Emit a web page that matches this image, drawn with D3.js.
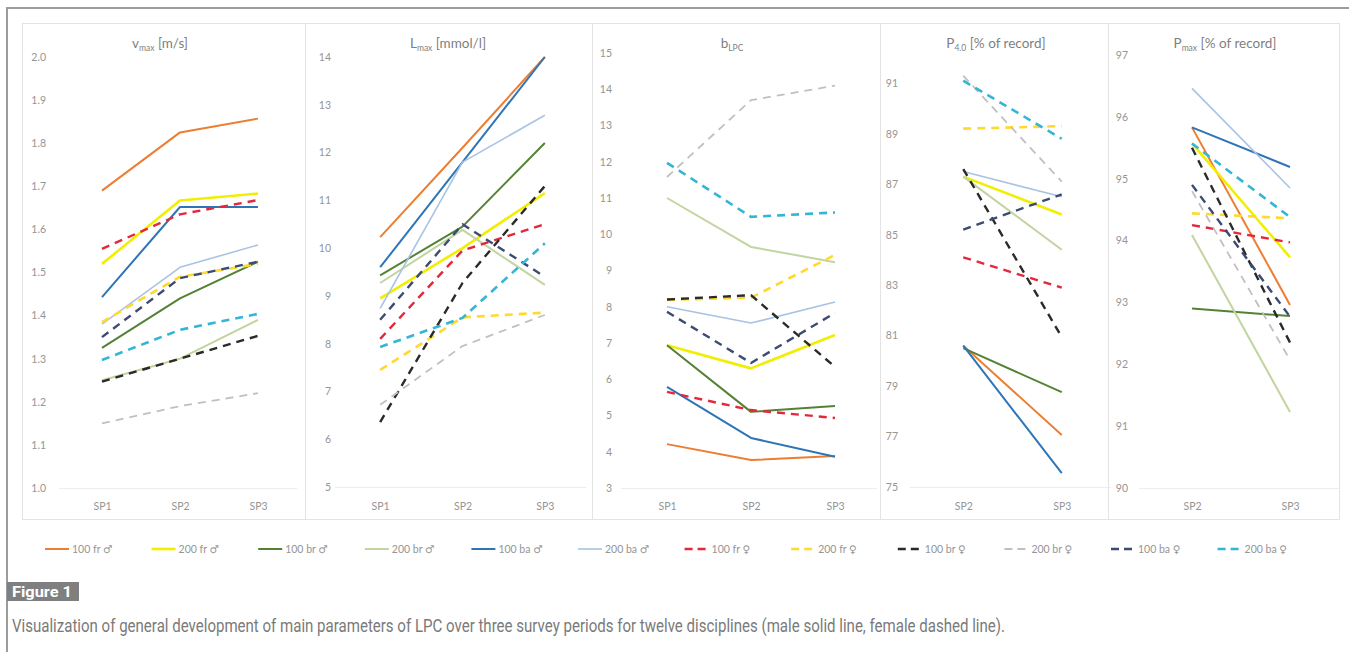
<!DOCTYPE html>
<html><head><meta charset="utf-8">
<script src="https://cdn.jsdelivr.net/npm/d3@7"></script>
<style>
html,body{margin:0;padding:0;background:#fff;}
svg{display:block;}
</style></head>
<body>
<svg id="c" width="1349" height="652"></svg>
<script>
// ---------- DATA ----------
const seriesNames = ["100 fr ♂","200 fr ♂","100 br ♂","200 br ♂","100 ba ♂","200 ba ♂",
                     "100 fr ♀","200 fr ♀","100 br ♀","200 br ♀","100 ba ♀","200 ba ♀"];
const periods3 = ["SP1","SP2","SP3"];
const periods2 = ["SP2","SP3"];

const vmax = [
  [1.69,1.825,1.857],[1.52,1.667,1.683],[1.325,1.44,1.525],[1.25,1.30,1.39],
  [1.443,1.652,1.652],[1.38,1.512,1.564],[1.555,1.635,1.668],[1.385,1.49,1.52],
  [1.247,1.30,1.353],[1.15,1.19,1.22],[1.35,1.487,1.525],[1.297,1.367,1.404]
];
const lmax = [
  [10.23,12.1,14.0],[8.95,10.0,11.15],[9.43,10.45,12.2],[9.27,10.38,9.23],
  [9.6,11.8,14.0],[8.74,11.8,12.78],[8.1,9.95,10.5],[7.45,8.55,8.65],
  [6.36,9.27,11.3],[6.72,7.95,8.6],[8.5,10.5,9.4],[7.93,8.54,10.1]
];
const blpc = [
  [4.21,3.77,3.88],[6.94,6.3,7.22],[6.94,5.1,5.26],[11.0,9.65,9.23],
  [5.79,4.38,3.86],[8.0,7.55,8.13],[5.65,5.15,4.93],[8.19,8.25,9.43],
  [8.2,8.32,6.34],[11.58,13.7,14.1],[7.86,6.45,7.83],[11.97,10.48,10.6]
];
const p40 = [
  [80.6,77.06],[87.3,85.8],[80.5,78.76],[87.3,84.4],
  [80.6,75.55],[87.5,86.5],[84.1,82.9],[89.2,89.3],
  [87.6,80.94],[91.3,87.1],[85.2,86.6],[91.1,88.8]
];
const pmax = [
  [95.83,92.96],[95.57,93.73],[92.9,92.78],[94.09,91.23],
  [95.83,95.19],[96.46,94.85],[94.25,93.97],[94.44,94.36],
  [95.5,92.35],[94.8,92.07],[94.9,92.77],[95.57,94.38]
];

const vmaxTicks = ["1.0","1.1","1.2","1.3","1.4","1.5","1.6","1.7","1.8","1.9","2.0"];
const lmaxTicks = ["5","6","7","8","9","10","11","12","13","14"];
const blpcTicks = ["3","4","5","6","7","8","9","10","11","12","13","14","15"];
const p40Ticks  = ["75","77","79","81","83","85","87","89","91"];
const pmaxTicks = ["90","91","92","93","94","95","96","97"];

const captionLabel = "Figure 1";
const captionText = "Visualization of general development of main parameters of LPC over three survey periods for twelve disciplines (male solid line, female dashed line).";

// ---------- STYLES ----------
const colors = ["#ED7D31","#F2EE00","#548235","#C2D4A0","#2E75B6","#A8C3E3",
                "#E2283A","#FFD92E","#2A2A2A","#C0C0C0","#3D4B72","#33B5D6"];
const dashed = [false,false,false,false,false,false,true,true,true,true,true,true];
const widths = [2,2.6,2,2,2,1.6,2.4,2.6,2.4,1.8,2.4,2.6];

// ---------- LAYOUT ----------
const panels = [
  {data:vmax, cats:periods3, ticks:vmaxTicks, dom:[1.0,2.0], left:63, right:297, top:57, bottom:488, labelX:46, titleX:160,
   title:[["v",""],["max","sub"],[" [m/s]",""]]},
  {data:lmax, cats:periods3, ticks:lmaxTicks, dom:[5,14], left:339, right:586, top:57, bottom:487, labelX:331, titleX:448,
   title:[["L",""],["max","sub"],[" [mmol/l]",""]]},
  {data:blpc, cats:periods3, ticks:blpcTicks, dom:[3,15], left:625, right:877, top:53, bottom:488, labelX:612, titleX:732,
   title:[["b",""],["LPC","sub"]]},
  {data:p40, cats:periods2, ticks:p40Ticks, dom:[75,92], left:914, right:1111, top:58, bottom:487, labelX:898, titleX:996,
   title:[["P",""],["4.0","sub"],[" [% of record]",""]]},
  {data:pmax, cats:periods2, ticks:pmaxTicks, dom:[90,97], left:1143, right:1339, top:55, bottom:488, labelX:1128, titleX:1225,
   title:[["P",""],["max","sub"],[" [% of record]",""]]}
];
const separators = [305,592,880,1108];
const font = "Lato, 'DejaVu Sans', 'Liberation Sans', sans-serif";

const svg = d3.select("#c");

// outer figure frame
svg.append("path").attr("d","M7,652 L7,8 L1349,8").attr("fill","none").attr("stroke","#9c9c9c").attr("stroke-width",2);

// chart area frame/separators
const fr = svg.append("g").attr("stroke","#e3e3e3").attr("stroke-width",1).attr("fill","none");
fr.append("line").attr("x1",22).attr("x2",1340).attr("y1",23.5).attr("y2",23.5);
fr.append("line").attr("x1",22.5).attr("x2",22.5).attr("y1",23).attr("y2",519);
fr.append("line").attr("x1",1339.5).attr("x2",1339.5).attr("y1",23).attr("y2",519);
fr.append("line").attr("x1",22).attr("x2",1340).attr("y1",519.5).attr("y2",519.5);
separators.forEach(x=>fr.append("line").attr("x1",x+0.5).attr("x2",x+0.5).attr("y1",23).attr("y2",519));

panels.forEach(p=>{
  const g = svg.append("g");
  const x = d3.scalePoint().domain(p.cats).range([p.left,p.right]).padding(0.5);
  const y = d3.scaleLinear().domain(p.dom).range([p.bottom,p.top]);

  // faint baseline
  g.append("line").attr("x1",p.left-4).attr("x2",p.right).attr("y1",y(p.dom[0])+0.5).attr("y2",y(p.dom[0])+0.5)
    .attr("stroke","#ededed").attr("stroke-width",1);

  // y axis labels
  const ya = g.append("g").attr("transform",`translate(${p.labelX},0)`)
    .call(d3.axisLeft(y).tickValues(p.ticks.map(Number)).tickSize(0).tickPadding(0)
      .tickFormat((d,i)=>p.ticks[i]));
  ya.select(".domain").remove();
  ya.selectAll("text").attr("font-family",font).attr("font-size",10.5).attr("fill","#959595");

  // x axis labels
  const xa = g.append("g").attr("transform",`translate(0,500)`)
    .call(d3.axisBottom(x).tickSize(0).tickPadding(3));
  xa.select(".domain").remove();
  xa.selectAll("text").attr("font-family",font).attr("font-size",10.5).attr("fill","#959595");

  // title
  const t = g.append("text").attr("x",p.titleX).attr("y",48).attr("text-anchor","middle")
    .attr("font-family",font).attr("font-size",13.5).attr("fill","#7f7f7f");
  p.title.forEach(([s,k])=>{
    const ts = t.append("tspan").text(s);
    if(k==="sub"){ ts.attr("font-size",8.5).attr("dy",3); }
    else if(t.selectAll("tspan").size()>1){ ts.attr("dy",-3); }
  });

  // lines
  const line = d3.line().x((d,i)=>x(p.cats[i])).y(d=>y(d));
  p.data.forEach((vals,si)=>{
    g.append("path").attr("d",line(vals)).attr("fill","none")
      .attr("stroke",colors[si]).attr("stroke-width",widths[si])
      .attr("stroke-dasharray",dashed[si]?"8,6":null)
      .attr("stroke-linejoin","round");
  });
});

// legend
const lg = svg.append("g");
seriesNames.forEach((n,i)=>{
  const x0 = 45 + i*106.6, yy = 549;
  lg.append("line").attr("x1",x0).attr("x2",x0+24).attr("y1",yy).attr("y2",yy)
    .attr("stroke",colors[i]).attr("stroke-width",widths[i])
    .attr("stroke-dasharray",dashed[i]?"8,5":null);
  lg.append("text").attr("x",x0+27).attr("y",yy+3.5).text(n)
    .attr("font-family",font).attr("font-size",10.5).attr("fill","#959595");
});

// caption
svg.append("rect").attr("x",7).attr("y",582).attr("width",72).attr("height",19).attr("fill","#7f7f7f");
svg.append("text").attr("x",12).attr("y",597).text(captionLabel)
  .attr("font-family","Roboto, 'Liberation Sans', sans-serif").attr("font-weight","bold").attr("font-size",15)
  .attr("fill","#fff").attr("textLength",60).attr("lengthAdjust","spacingAndGlyphs");
svg.append("text").attr("x",12).attr("y",632).text(captionText)
  .attr("font-family","Roboto, 'Liberation Sans', sans-serif").attr("font-size",17.5)
  .attr("fill","#7a7a7a").attr("textLength",993).attr("lengthAdjust","spacingAndGlyphs");
</script>
</body></html>
